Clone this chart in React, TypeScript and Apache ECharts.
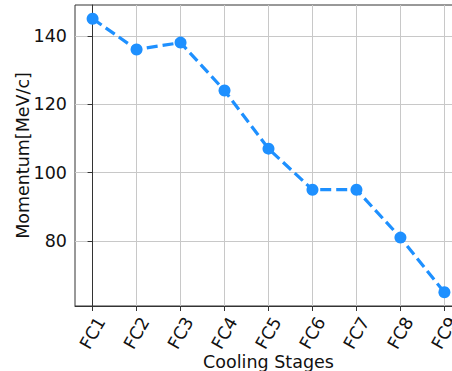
import React, { useEffect, useRef } from "react";
import * as echarts from "echarts";

const categories = ["FC1", "FC2", "FC3", "FC4", "FC5", "FC6", "FC7", "FC8", "FC9"];
const momentum = [145, 136, 138, 124, 107, 95, 95, 81, 65];
const yTicks = [80, 100, 120, 140];

export default function App() {
  const ref = useRef<HTMLDivElement>(null);
  useEffect(() => {
    document.body.style.margin = "0";
    const chart = echarts.init(ref.current!, null, { renderer: "svg" });
    const font = "DejaVu Sans";
    const fs = 17.5;
    chart.setOption({
      animation: false,
      grid: {
        left: 75,
        top: 5,
        width: 387,
        height: 301,
        outerBoundsMode: "none",
        containLabel: false,
        show: true,
        borderColor: "#333",
        borderWidth: 1,
        backgroundColor: "#fff",
      },
      xAxis: {
        type: "value",
        min: -0.4,
        max: 8.4,
        name: "Cooling Stages",
        nameLocation: "middle",
        nameGap: 47,
        nameMoveOverlap: false,
        nameTextStyle: { fontFamily: font, fontSize: fs, color: "#111" },
        axisLine: { show: true, lineStyle: { color: "#333", width: 1 } },
        axisTick: {
          show: true,
          length: 5,
          lineStyle: { color: "#333" },
          customValues: categories.map((_, i) => i),
        },
        axisLabel: {
          customValues: categories.map((_, i) => i),
          formatter: (v: number) => categories[Math.round(v)] ?? "",
          rotate: 60,
          align: "center",
          verticalAlign: "middle",
          margin: 27,
          fontFamily: font,
          fontSize: fs,
          color: "#111",
        },
        splitLine: { show: true, lineStyle: { color: "#c8c8c8", width: 1 } },
      },
      yAxis: {
        type: "value",
        min: 61,
        max: 149,
        name: "Momentum[MeV/c]",
        nameLocation: "middle",
        nameRotate: 90,
        nameGap: 43,
        nameMoveOverlap: false,
        nameTextStyle: { fontFamily: font, fontSize: fs, color: "#111" },
        axisLine: { show: true, lineStyle: { color: "#333", width: 1 } },
        axisTick: {
          show: true,
          length: 5,
          lineStyle: { color: "#333" },
          customValues: yTicks,
        },
        axisLabel: {
          customValues: yTicks,
          margin: 8,
          fontFamily: font,
          fontSize: fs,
          color: "#111",
        },
        splitLine: { show: true, lineStyle: { color: "#c8c8c8", width: 1 } },
      },
      series: [
        {
          type: "line",
          data: momentum.map((v, i) => [i, v]),
          symbol: "circle",
          symbolSize: 12,
          itemStyle: { color: "#1E90FF" },
          lineStyle: { color: "#1E90FF", width: 3.2, type: [11, 5] },
        },
      ],
    });
    return () => chart.dispose();
  }, []);
  return <div ref={ref} style={{ width: 452, height: 371 }} />;
}
